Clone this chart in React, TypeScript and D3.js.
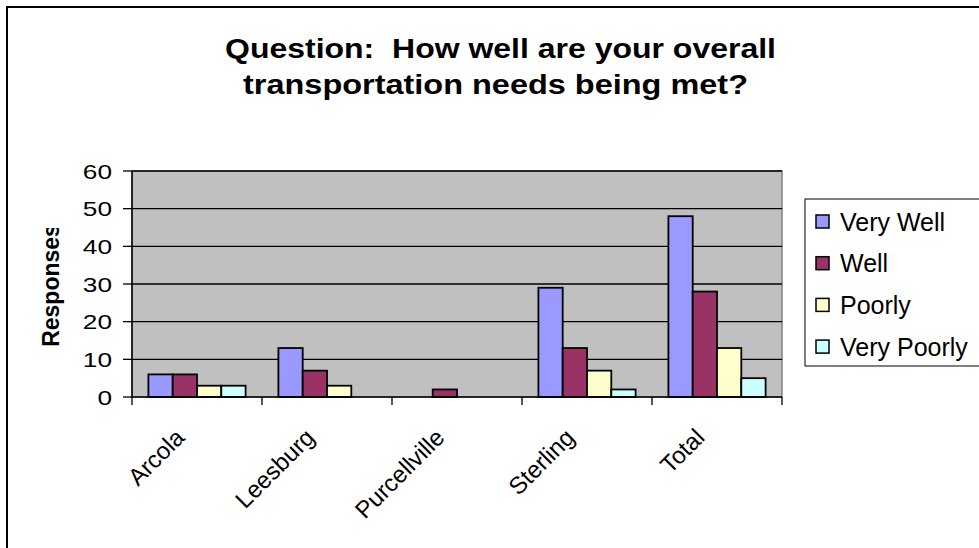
import React from "react";
import * as d3 from "d3";

const categories = ["Arcola", "Leesburg", "Purcellville", "Sterling", "Total"];
const seriesNames = ["Very Well", "Well", "Poorly", "Very Poorly"];
const veryWell = [6, 13, 0, 29, 48];
const well = [6, 7, 2, 13, 28];
const poorly = [3, 3, 0, 7, 13];
const veryPoorly = [3, 0, 0, 2, 5];
const seriesValues = [veryWell, well, poorly, veryPoorly];
const yTicks = [0, 10, 20, 30, 40, 50, 60];
const colors = ["#9999FF", "#993366", "#FFFFCC", "#CCFFFF"];
const titleLines = ["Question:  How well are your overall", "transportation needs being met?"];

export default function App() {
  const W = 979, H = 548;
  const plotL = 132, plotR = 782, plotT = 171, plotB = 397;
  const x0 = d3.scaleBand<string>().domain(categories).range([plotL, plotR]).paddingInner(0).paddingOuter(0);
  const bw = x0.bandwidth() / 5.35;
  const groupW = bw * 4;
  const x1 = d3.scaleBand<string>().domain(seriesNames).range([(x0.bandwidth() - groupW) / 2, (x0.bandwidth() + groupW) / 2]);
  const y = d3.scaleLinear().domain([0, 60]).range([plotB, plotT]);
  const font = "'Liberation Sans', Arial, sans-serif";

  return (
    <svg width={W} height={H} style={{ position: "absolute", left: 0, top: 0, background: "#fff" }} fontFamily={font}>
      <defs>
        <clipPath id="ytclip"><rect x={30} y={228} width={50} height={150} /></clipPath>
      </defs>
      <rect x={0} y={0} width={W} height={H} fill="#fff" />
      <rect x={7} y={7} width={1100} height={700} fill="none" stroke="#000" strokeWidth={2} />
      {/* title */}
      <text x={500.5} y={58} textAnchor="middle" fontSize={28} fontWeight="bold" textLength={551} lengthAdjust="spacingAndGlyphs" style={{ whiteSpace: "pre" }}>{titleLines[0]}</text>
      <text x={495.5} y={94} textAnchor="middle" fontSize={28} fontWeight="bold" textLength={505} lengthAdjust="spacingAndGlyphs" style={{ whiteSpace: "pre" }}>{titleLines[1]}</text>
      {/* plot area */}
      <rect x={plotL} y={plotT} width={plotR - plotL} height={plotB - plotT} fill="#C0C0C0" stroke="#808080" strokeWidth={1.5} />
      {yTicks.filter(t => t > 0).map(t => (
        <line key={"g" + t} x1={plotL} x2={plotR} y1={y(t)} y2={y(t)} stroke="#000" strokeWidth={1.3} />
      ))}
      {/* bars */}
      {seriesValues.map((vals, si) => vals.map((v, ci) => v > 0 ? (
        <rect key={si + "-" + ci} x={(x0(categories[ci]) as number) + (x1(seriesNames[si]) as number)} y={y(v)} width={x1.bandwidth()} height={y(0) - y(v)} fill={colors[si]} stroke="#000" strokeWidth={1.8} />
      ) : null))}
      {/* axes */}
      <line x1={plotL} x2={plotL} y1={plotT} y2={plotB} stroke="#000" strokeWidth={1.5} />
      <line x1={plotL} x2={plotR} y1={plotB} y2={plotB} stroke="#000" strokeWidth={1.5} />
      {yTicks.map(t => (
        <g key={"yt" + t}>
          <line x1={plotL - 9} x2={plotL} y1={y(t)} y2={y(t)} stroke="#000" strokeWidth={1.3} />
          <text transform={`translate(112,${y(t) + 7.5}) scale(1.25,1)`} textAnchor="end" fontSize={21}>{t}</text>
        </g>
      ))}
      {categories.map((c, i) => (
        <line key={"xt" + i} x1={x0(c) as number} x2={x0(c) as number} y1={plotB} y2={plotB + 8} stroke="#000" strokeWidth={1.3} />
      ))}
      <line x1={plotR} x2={plotR} y1={plotB} y2={plotB + 8} stroke="#000" strokeWidth={1.3} />
      {categories.map((c) => {
        const cx = (x0(c) as number) + x0.bandwidth() / 2;
        return (
          <text key={"xl" + c} transform={`translate(${cx - 11},${plotB + 42}) rotate(-45)`} textAnchor="end" fontSize={24}>{c}</text>
        );
      })}
      {/* y title */}
      <g clipPath="url(#ytclip)">
        <text transform={`translate(59,285.5) rotate(-90)`} textAnchor="middle" fontSize={23} fontWeight="bold">Responses</text>
      </g>
      {/* legend */}
      <rect x={805} y={199} width={200} height={167} fill="#fff" stroke="#000" strokeWidth={1} />
      {seriesNames.map((s, i) => {
        const cy = 221.5 + i * 41.7;
        return (
          <g key={"lg" + s}>
            <rect x={816} y={cy - 6.5} width={13} height={13} fill={colors[i]} stroke="#000" strokeWidth={1.5} />
            <text x={840} y={cy + 9} fontSize={25}>{s}</text>
          </g>
        );
      })}
    </svg>
  );
}
